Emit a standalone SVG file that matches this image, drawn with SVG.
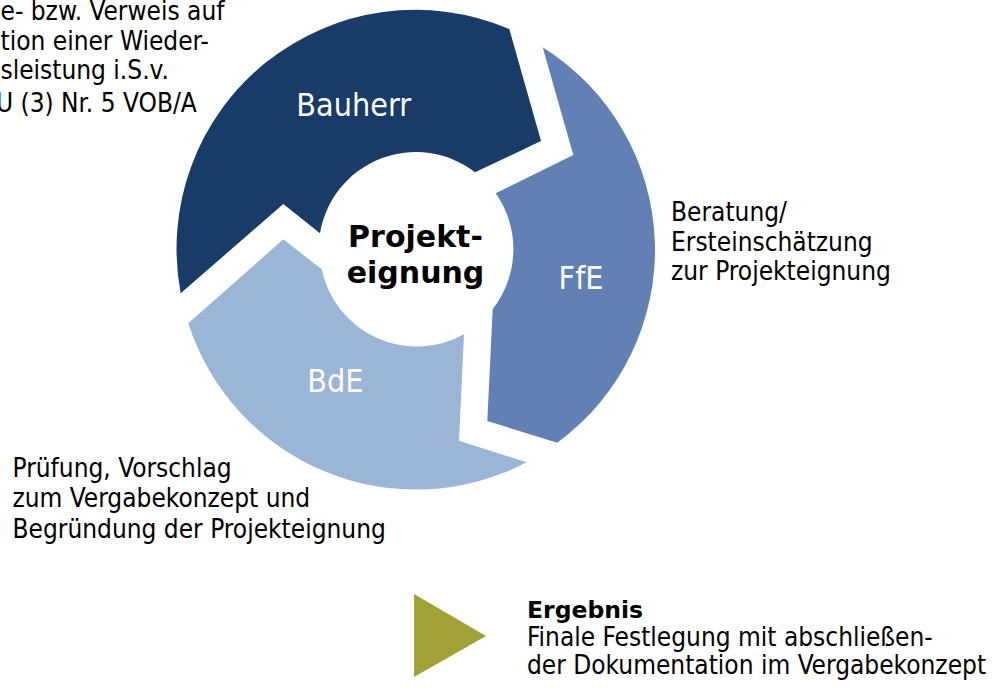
<svg xmlns="http://www.w3.org/2000/svg" width="992" height="688" viewBox="0 0 992 688">
  <style>
    .lbl { font-family: "DejaVu Sans Condensed", "DejaVu Sans", sans-serif; font-stretch: condensed; font-size: 26px; fill: #000; }
    .seg-txt { font-family: "DejaVu Sans Condensed", "DejaVu Sans", sans-serif; font-stretch: condensed; font-size: 32px; fill: #fff; text-anchor: middle; }
    .bold { font-family: "DejaVu Sans", sans-serif; font-weight: bold; fill: #000; }
    .c1 { fill: #183B68; }
    .c2 { fill: #6380B5; }
    .c3 { fill: #9BB5D6; }
    .olive { fill: #A2A138; }
  </style>
  <rect width="992" height="688" fill="#fff"/>

  <g id="node-bauherr">
    <path class="c1" d="M180.7,293.3 A239,239 0 0 1 509.3,29 L541,141 L475,172.3 A97,97 0 0 0 320,233.3 L283.3,204 Z"/>
    <text class="seg-txt" x="353.7" y="116">Bauherr</text>
  </g>

  <g id="node-ffe">
    <path class="c2" d="M542.7,47.3 A239,239 0 0 1 557.3,442.7 L487.3,421 L492.7,309 A97,97 0 0 0 495.7,193.3 L573.3,155 Z"/>
    <text class="seg-txt" x="581" y="288.5">FfE</text>
  </g>

  <g id="node-bde">
    <path class="c3" d="M526.7,462.3 A239,239 0 0 1 188.3,323.3 L283.3,239.3 L321.7,269.3 A97,97 0 0 0 464,334.3 L459,440.7 Z"/>
    <text class="seg-txt" x="335.3" y="392">BdE</text>
  </g>

  <g id="node-center">
    <circle cx="416.4" cy="249.5" r="96" fill="#fff"/>
    <text class="bold" font-size="30" text-anchor="middle" x="415.5" y="246.7">Projekt-</text>
    <text class="bold" font-size="30" text-anchor="middle" x="415.5" y="283">eignung</text>
  </g>

  <g id="connectors"></g>

  <g id="label-topleft">
    <text class="lbl" x="0.5" y="20">e- bzw. Verweis auf</text>
    <text class="lbl" x="0.5" y="50">tion einer Wieder-</text>
    <text class="lbl" x="0.5" y="79">sleistung i.S.v.</text>
    <text class="lbl" x="-4" y="111.5">U (3) Nr. 5 VOB/A</text>
  </g>

  <g id="label-ffe">
    <text class="lbl" x="671" y="221">Beratung/</text>
    <text class="lbl" x="671" y="250.5">Ersteinschätzung</text>
    <text class="lbl" x="671" y="280">zur Projekteignung</text>
  </g>

  <g id="label-bde">
    <text class="lbl" x="12.5" y="477">Prüfung, Vorschlag</text>
    <text class="lbl" x="12.5" y="507">zum Vergabekonzept und</text>
    <text class="lbl" x="12.5" y="538">Begründung der Projekteignung</text>
  </g>

  <g id="result">
    <polygon class="olive" points="414,594 486,636 414,677"/>
    <text class="bold" font-size="23.5" x="527" y="618">Ergebnis</text>
    <text class="lbl" x="527" y="646">Finale Festlegung mit abschließen-</text>
    <text class="lbl" x="527" y="674">der Dokumentation im Vergabekonzept</text>
  </g>
</svg>
